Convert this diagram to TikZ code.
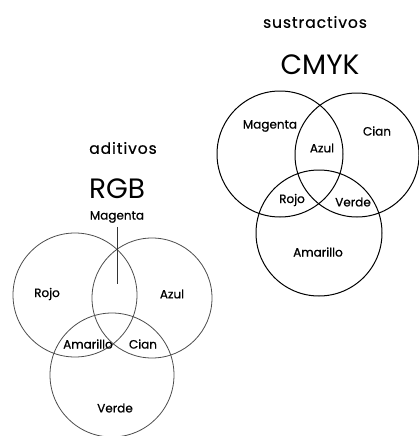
\documentclass[tikz,border=0pt]{standalone}
\usepackage{fontspec}
\setmainfont{Poppins}
\newfontfamily\lblfont{Poppins}[FakeBold=0.9]
\newfontfamily\headfont{Poppins}[FakeBold=0.6,LetterSpace=6]
\begin{document}
\begin{tikzpicture}[x=1pt,y=-1pt,
  ringA/.style={draw=black!70,line width=0.8pt},
  ringB/.style={draw=black,line width=1pt},
  lbl/.style={font=\lblfont\fontsize{12}{13}\selectfont,text=black,inner sep=0pt},
  head/.style={font=\headfont\fontsize{15.5}{16}\selectfont,text=black,inner sep=0pt},
  model/.style={font=\fontsize{28}{30}\selectfont,text=black,inner sep=0pt}]
\useasboundingbox (0,0) rectangle (418,436);
% additive model (RGB)
\node[head]  (adit) at (123,148) {aditivos};
\node[model] (rgb)  at (117,189) {RGB};
\draw[ringA] (75,295) circle (62);
\draw[ringA] (152,298) circle (60);
\draw[ringA] (112,375) circle (62);
\node[lbl] (mag1) at (117,217) {Magenta};
\coordinate (mtip) at (117,284);
\draw[black!80,line width=0.6pt] (mag1.south) ++(0,4) -- (mtip);
\node[lbl] (rojo1)  at (47,294)  {Rojo};
\node[lbl] (azul1)  at (172,294) {Azul};
\node[lbl] (ama1)   at (88,344)  {Amarillo};
\node[lbl] (cian1)  at (143,344) {Cian};
\node[lbl] (verde1) at (115,408) {Verde};
% subtractive model (CMYK)
\node[head]  (sust) at (315,22) {sustractivos};
\node[model] (cmyk) at (320,65) {CMYK};
\draw[ringB] (280,154) circle (63);
\draw[ringB] (357,155) circle (62);
\draw[ringB] (319,233) circle (63);
\node[lbl] (mag2)   at (270,126) {Magenta};
\node[lbl] (cian2)  at (377,131) {Cian};
\node[lbl] (azul2)  at (322,148) {Azul};
\node[lbl] (rojo2)  at (292,200) {Rojo};
\node[lbl] (verde2) at (353,202) {Verde};
\node[lbl] (ama2)   at (318,252) {Amarillo};
\end{tikzpicture}
\end{document}
